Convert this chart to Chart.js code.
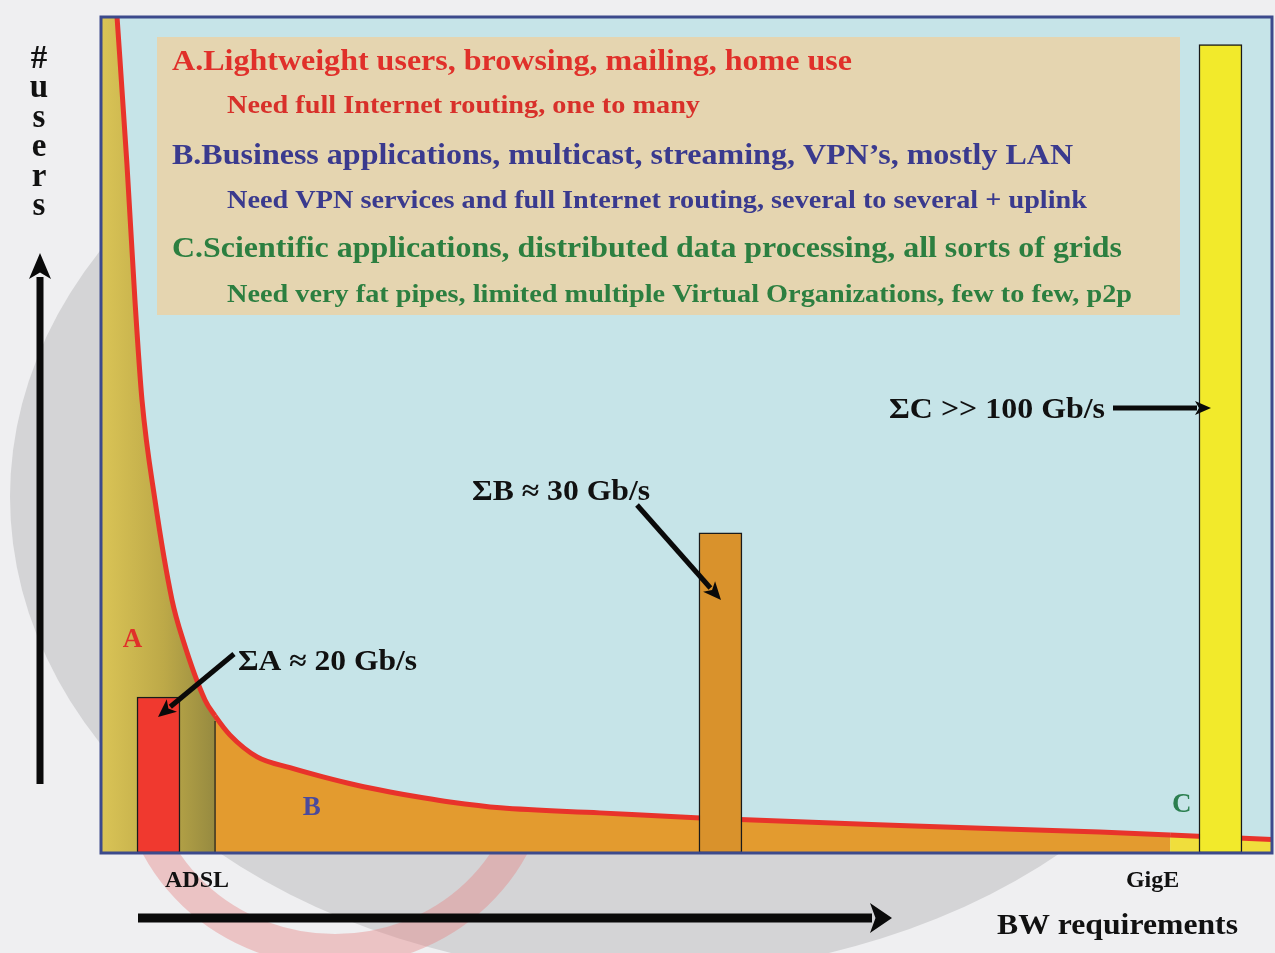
<!DOCTYPE html>
<html>
<head>
<meta charset="utf-8">
<title>BW requirements</title>
<script src="https://cdn.jsdelivr.net/npm/chart.js@4.4.0/dist/chart.umd.min.js"></script>
<style>
body { margin: 0; background: #efeff1; }
#wrap { width: 1275px; height: 953px; }
</style>
</head>
<body>
<div id="wrap"><canvas id="myChart" width="1275" height="953"></canvas></div>
<script>
// long tail: bandwidth (0..100) vs number of users (0..100)
const bwSteps = [0, 1.37, 2.22, 2.9, 3.5, 4.61, 6.06, 7.0, 8.88, 9.74, 11.02, 13.33, 16.14, 18.96, 21.86, 24.68, 27.5, 29.8, 34.1, 42.6, 51.2, 68.2, 85.3, 91.3, 100];
const userCounts = [128, 100, 82.3, 66.1, 54.2, 42.2, 30.3, 25.5, 18.3, 16.4, 14.1, 11.5, 10.2, 9.1, 8.1, 7.3, 6.6, 6.1, 5.4, 4.8, 4.2, 3.3, 2.5, 2.15, 1.6];

// where the A / B / C user groups end
const groupA_end = 9.74;
const groupC_start = 91.3;

// aggregated bandwidth bars
const barNames = ['ΣA ≈ 20 Gb/s', 'ΣB ≈ 30 Gb/s', 'ΣC >> 100 Gb/s'];
const barBw = [4.91, 52.9, 95.6];
const barHeights = [18.66, 38.3, 96.7];

const tickLabels = ['ADSL', 'GigE'];
const tickBw = [8.2, 89.8];

const groupNames = ['A', 'B', 'C'];
const groupLines = [
    'A.Lightweight users, browsing, mailing, home use',
    'Need full Internet routing, one to many',
    'B.Business applications, multicast, streaming, VPN\u2019s, mostly LAN',
    'Need VPN services and full Internet routing, several to several + uplink',
    'C.Scientific applications, distributed data processing, all sorts of grids',
    'Need very fat pipes, limited multiple Virtual Organizations, few to few, p2p'
];

var oliveGrad = null;
const SERIF = '"Liberation Serif", "Times New Roman", serif';

function drawText(ctx, text, x, y, size, color, width) {
    ctx.save();
    ctx.font = 'bold ' + size + 'px ' + SERIF;
    ctx.textBaseline = 'alphabetic';
    ctx.textAlign = 'left';
    const w = ctx.measureText(text).width;
    ctx.translate(x, y);
    if (width) ctx.scale(width / w, 1);
    ctx.fillStyle = color;
    ctx.fillText(text, 0, 0);
    ctx.restore();
}

function arrow(ctx, x1, y1, x2, y2, lw, hl, hw) {
    const a = Math.atan2(y2 - y1, x2 - x1);
    const bx = x2 - hl * Math.cos(a), by = y2 - hl * Math.sin(a);
    ctx.save();
    ctx.strokeStyle = '#0a0a0a';
    ctx.fillStyle = '#0a0a0a';
    ctx.lineWidth = lw;
    ctx.beginPath();
    ctx.moveTo(x1, y1);
    ctx.lineTo(bx + 2 * Math.cos(a), by + 2 * Math.sin(a));
    ctx.stroke();
    ctx.beginPath();
    ctx.moveTo(x2, y2);
    ctx.lineTo(bx + hw / 2 * Math.sin(a), by - hw / 2 * Math.cos(a));
    ctx.lineTo(bx + hl * 0.25 * Math.cos(a), by + hl * 0.25 * Math.sin(a));
    ctx.lineTo(bx - hw / 2 * Math.sin(a), by + hw / 2 * Math.cos(a));
    ctx.closePath();
    ctx.fill();
    ctx.restore();
}

const backdrop = {
    id: 'backdrop',
    afterLayout(chart) {
        const x = chart.scales.x;
        oliveGrad = chart.ctx.createLinearGradient(x.getPixelForValue(0), 0, x.getPixelForValue(groupA_end), 0);
        oliveGrad.addColorStop(0, '#dac456');
        oliveGrad.addColorStop(0.55, '#bda948');
        oliveGrad.addColorStop(1, '#968a40');
    },
    beforeDraw(chart) {
        const ctx = chart.ctx;
        const {left, top, right, bottom} = chart.chartArea;
        ctx.save();
        ctx.fillStyle = '#efeff1';
        ctx.fillRect(0, 0, chart.width, chart.height);
        // faded logo in the background
        ctx.fillStyle = '#d4d4d6';
        ctx.beginPath();
        ctx.ellipse(640, 497, 630, 478, 0, 0, Math.PI * 2);
        ctx.fill();
        ctx.strokeStyle = 'rgba(230, 130, 130, 0.4)';
        ctx.lineWidth = 32;
        ctx.beginPath();
        ctx.ellipse(335, 760, 200, 190, 0, 0, Math.PI * 2);
        ctx.stroke();
        // plot area
        ctx.fillStyle = '#c6e4e8';
        ctx.fillRect(left, top, right - left, bottom - top);
        // legend box
        ctx.fillStyle = '#e5d5b0';
        ctx.fillRect(157, 37, 1023, 278);
        ctx.restore();
    },
    afterDraw(chart) {
        const ctx = chart.ctx;
        const x = chart.scales.x, y = chart.scales.y;
        const {left, top, right, bottom} = chart.chartArea;

        ctx.save();
        ctx.strokeStyle = '#3c4a8c';
        ctx.lineWidth = 3;
        ctx.strokeRect(left, top, right - left, bottom - top);
        ctx.restore();

        const cols = ['#e0302a', '#d8302a', '#3a3a8e', '#3a3a8e', '#2c7f40', '#2c7f40'];
        const lx = [172, 227, 172, 227, 172, 227];
        const ly = [70, 113, 164, 208, 257, 302];
        const lw = [680, 473, 901, 860, 950, 905];
        const ls = [30, 25, 30, 25, 30, 25];
        groupLines.forEach(function (t, i) {
            drawText(ctx, t, lx[i], ly[i], ls[i], cols[i], lw[i]);
        });

        // y axis title, one letter per line
        ctx.save();
        ctx.font = 'bold 33px ' + SERIF;
        ctx.fillStyle = '#111';
        ctx.textAlign = 'center';
        ['#', 'u', 's', 'e', 'r', 's'].forEach(function (c, i) {
            ctx.fillText(c, 39, 68 + i * 29.4);
        });
        ctx.restore();
        arrow(ctx, 40, 784, 40, 253, 7, 26, 22);
        arrow(ctx, 138, 918, 892, 918, 9, 22, 30);
        drawText(ctx, 'BW requirements', 997, 934, 29, '#111', 241);

        // ticks on the bandwidth axis
        ctx.save();
        ctx.font = 'bold 24px ' + SERIF;
        ctx.fillStyle = '#111';
        ctx.textAlign = 'center';
        tickLabels.forEach(function (t, i) {
            ctx.fillText(t, x.getPixelForValue(tickBw[i]), 887);
        });
        ctx.restore();

        // group letters
        const gx = [2.7, 18.0, 92.3], gy = [25.5, 5.4, 5.7];
        const gc = ['#e0302a', '#4a4a9c', '#2c7f50'];
        ctx.save();
        ctx.font = 'bold 27px ' + SERIF;
        ctx.textAlign = 'center';
        ctx.textBaseline = 'middle';
        groupNames.forEach(function (g, i) {
            ctx.fillStyle = gc[i];
            ctx.fillText(g, x.getPixelForValue(gx[i]), y.getPixelForValue(gy[i]));
        });
        ctx.restore();

        // sums with their arrows
        drawText(ctx, barNames[0], 238, 670, 29, '#111', 179);
        drawText(ctx, barNames[1], 472, 500, 29, '#111', 178);
        drawText(ctx, barNames[2], 889, 418, 29, '#111', 216);
        arrow(ctx, 234, 654, 158, 717, 5, 18, 16);
        arrow(ctx, 637, 505, 721, 600, 5, 18, 16);
        arrow(ctx, 1113, 408, 1211, 408, 5, 16, 14);
    }
};

const ctx = document.getElementById('myChart').getContext('2d');
var myChart = new Chart(ctx, {
    type: 'line',
    data: {
        datasets: [{
            type: 'bar',
            label: 'aggregate',
            data: barBw.map((b, i) => ({x: b, y: barHeights[i]})),
            backgroundColor: ['#f0392f', '#d9922c', '#f2ea2b'],
            borderColor: '#1a1a1a',
            borderWidth: 1.5,
            borderSkipped: false,
            barThickness: 43,
            order: 0
        }, {
            label: 'group edge',
            data: [{x: groupA_end, y: 0}, {x: groupA_end, y: 15.8}],
            borderColor: '#3a3320',
            borderWidth: 1.5,
            pointRadius: 0,
            fill: false,
            order: 1
        }, {
            label: 'users',
            data: bwSteps.map((b, i) => ({x: b, y: userCounts[i]})),
            borderColor: '#e8332b',
            borderWidth: 5,
            pointRadius: 0,
            cubicInterpolationMode: 'monotone',
            fill: 'origin',
            backgroundColor: '#e39b2f',
            segment: {
                backgroundColor: function (c) {
                    const b = bwSteps[c.p0DataIndex];
                    if (b < groupA_end) return oliveGrad || '#bfaa48';
                    if (b < groupC_start) return '#e39b2f';
                    return '#f0de3c';
                }
            },
            order: 2
        }]
    },
    options: {
        responsive: false,
        animation: false,
        events: [],
        layout: { padding: { left: 101, top: 17, right: 3, bottom: 100 } },
        scales: {
            x: { type: 'linear', min: 0, max: 100, display: false, offset: false },
            y: { type: 'linear', min: 0, max: 100, display: false }
        },
        plugins: {
            legend: { display: false },
            tooltip: { enabled: false }
        }
    },
    plugins: [backdrop]
});
</script>
</body>
</html>
